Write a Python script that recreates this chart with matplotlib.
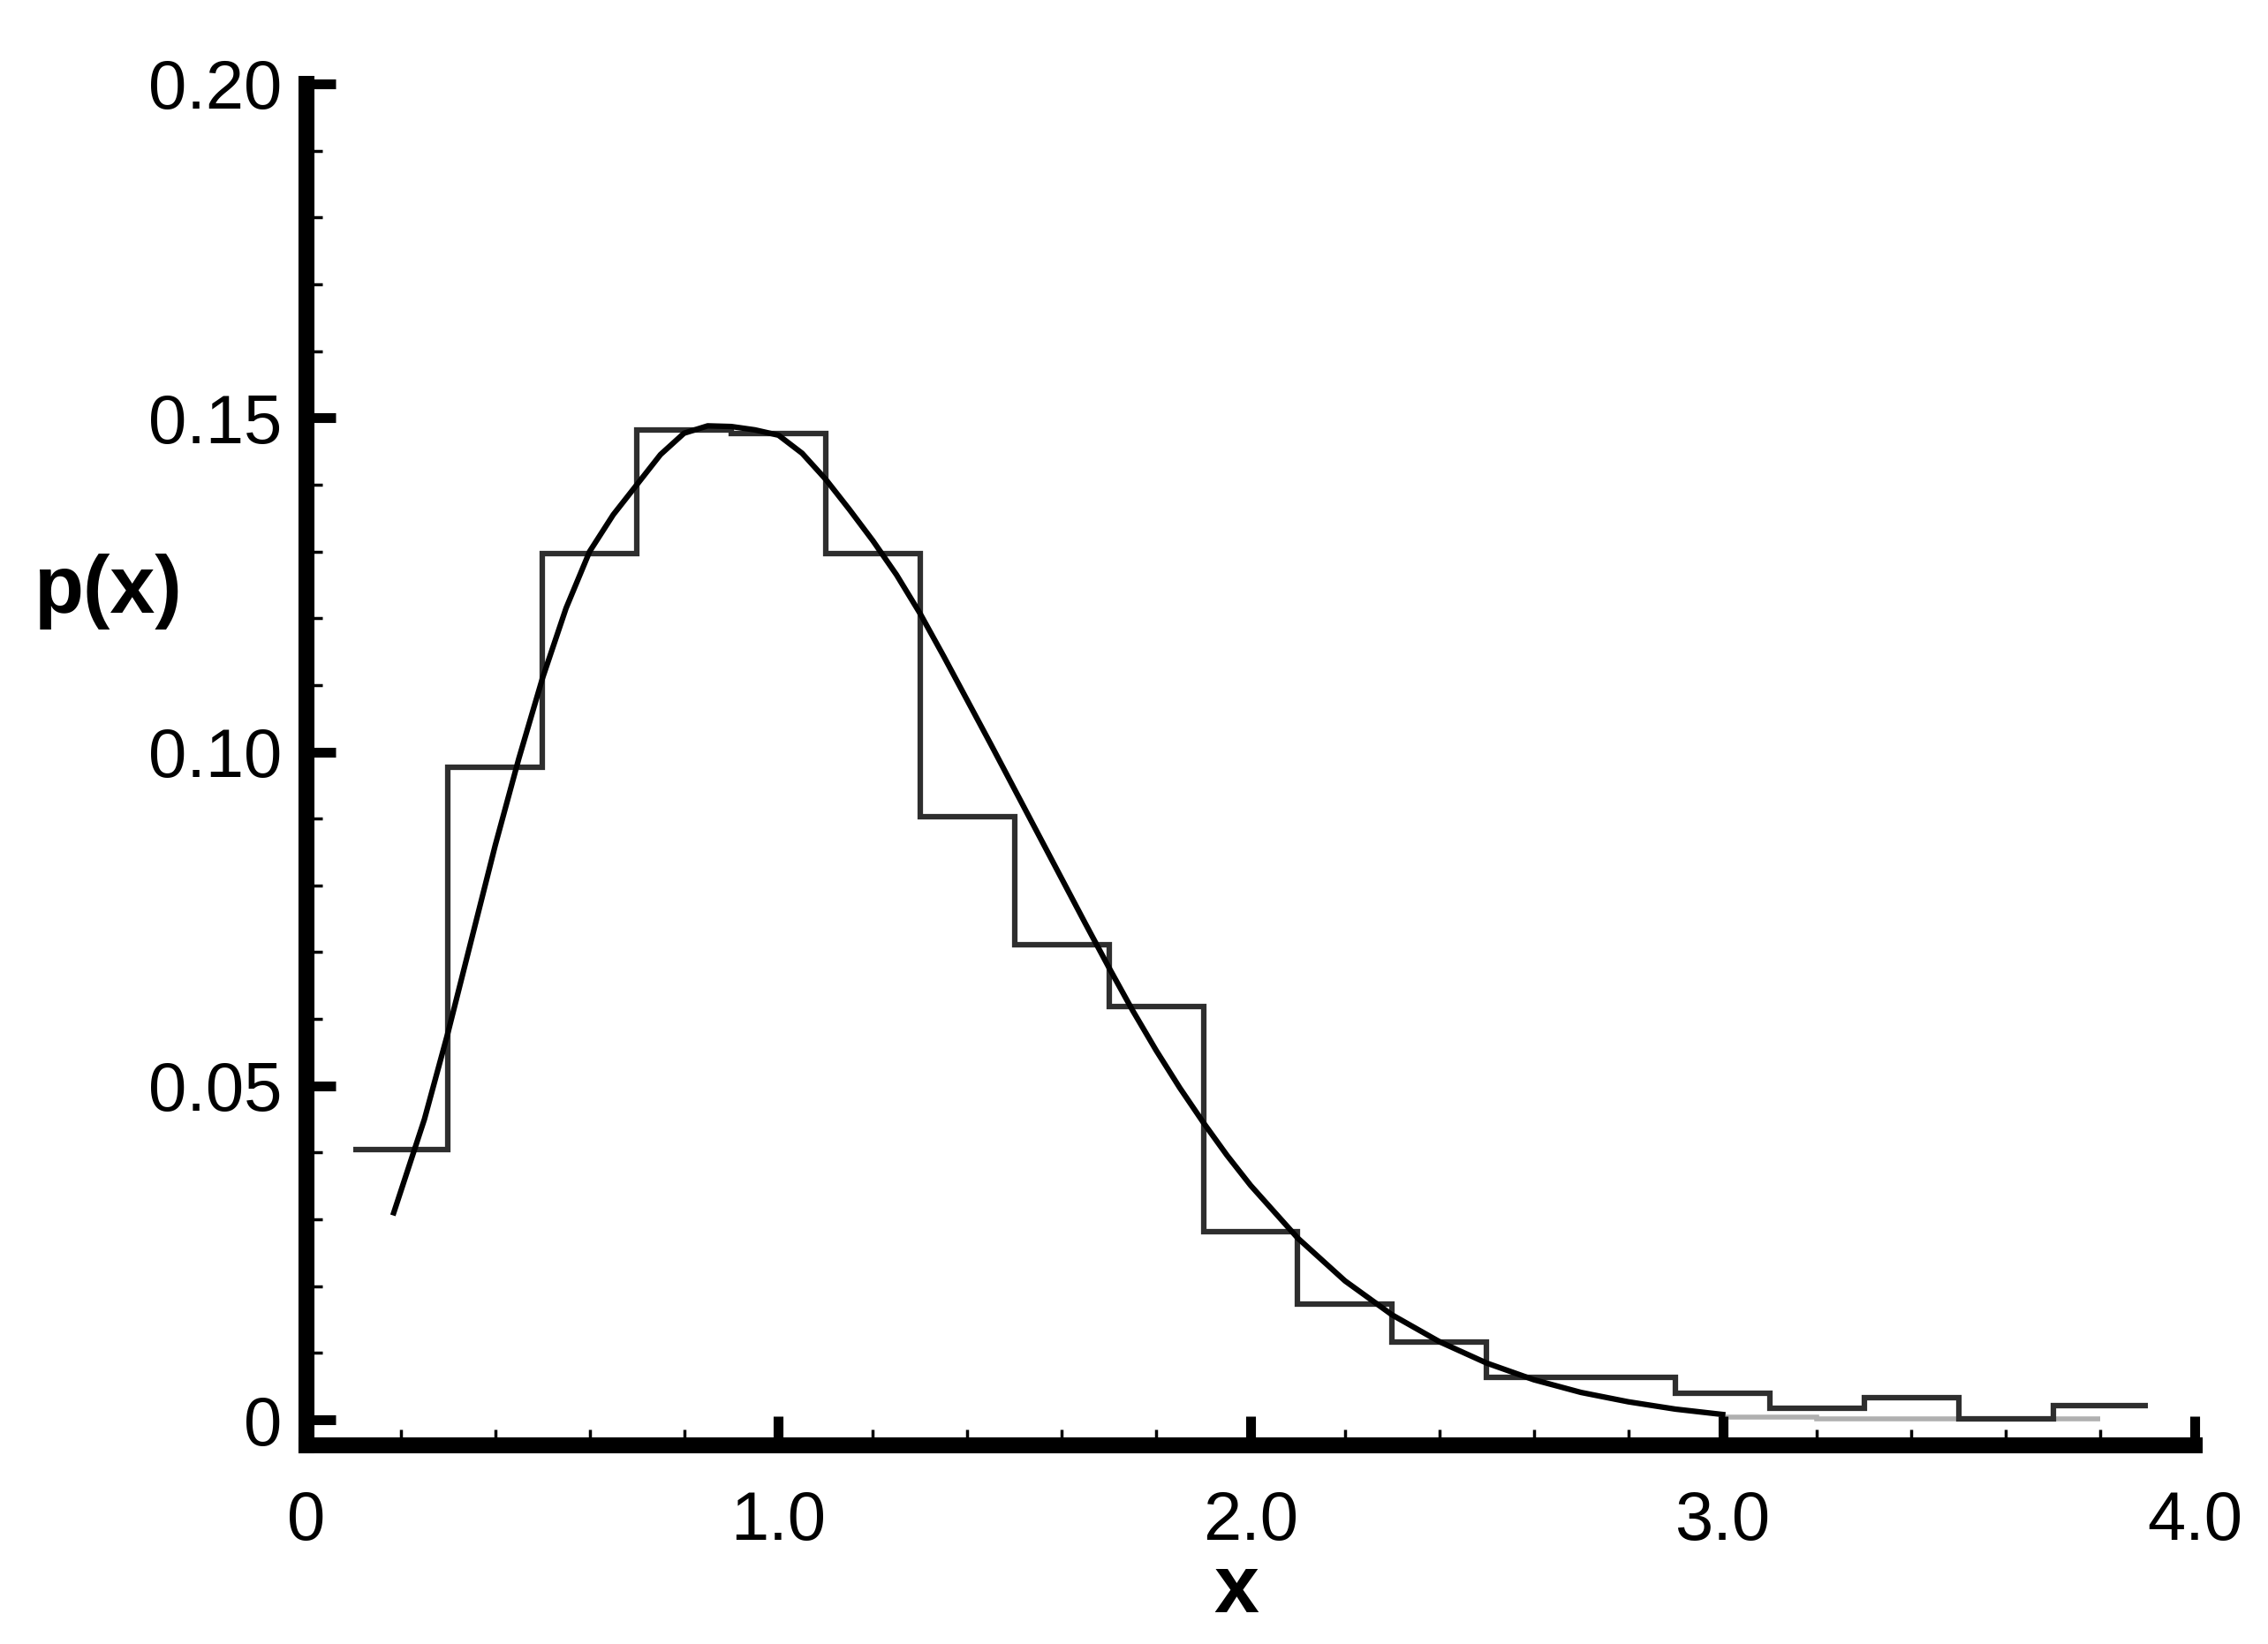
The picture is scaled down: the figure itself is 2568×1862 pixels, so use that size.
import matplotlib
matplotlib.use("Agg")
import matplotlib.pyplot as plt
from matplotlib.ticker import MultipleLocator, FixedLocator, FixedFormatter

# ---- data ----
bin_edges = [0.1, 0.3, 0.5, 0.7, 0.9, 1.1, 1.3, 1.5, 1.7, 1.9, 2.1,
             2.3, 2.5, 2.7, 2.9, 3.1, 3.3, 3.5, 3.7, 3.9]
hist_values = [0.0405, 0.0977, 0.1297, 0.1482, 0.1477, 0.1297, 0.0903,
               0.0711, 0.0619, 0.0282, 0.0173, 0.0116, 0.0064, 0.0063,
               0.0040, 0.0017, 0.0033, 0.0002, 0.0021]

ghost_edges = [3.0, 3.2, 3.4, 3.6, 3.8]
ghost_values = [0.0004, 0.0002, 0.0002, 0.0002]

curve_x = [0.185, 0.25, 0.30, 0.35, 0.40, 0.45, 0.50, 0.55, 0.60, 0.65,
           0.70, 0.75, 0.80, 0.85, 0.90, 0.95, 1.00, 1.05, 1.10, 1.15,
           1.20, 1.25, 1.30, 1.35, 1.40, 1.45, 1.50, 1.55, 1.60, 1.65,
           1.70, 1.75, 1.80, 1.85, 1.90, 1.95, 2.00, 2.10, 2.20, 2.30,
           2.40, 2.50, 2.60, 2.70, 2.80, 2.90, 3.00]
curve_y = [0.031, 0.045, 0.058, 0.072, 0.086, 0.099, 0.111, 0.1215, 0.130,
           0.1355, 0.140, 0.1445, 0.1477, 0.1488, 0.1487, 0.1482, 0.1474,
           0.1447, 0.1408, 0.1363, 0.1316, 0.1265, 0.1207, 0.1143, 0.1077,
           0.1011, 0.0944, 0.0877, 0.0810, 0.0743, 0.0677, 0.0613, 0.0553,
           0.0497, 0.0445, 0.0396, 0.0351, 0.0272, 0.0208, 0.0157, 0.0117,
           0.0085, 0.0060, 0.0041, 0.0027, 0.0016, 0.0008]

x_ticks = [0, 1.0, 2.0, 3.0, 4.0]
x_tick_labels = ["0", "1.0", "2.0", "3.0", "4.0"]
y_ticks = [0, 0.05, 0.10, 0.15, 0.20]
y_tick_labels = ["0", "0.05", "0.10", "0.15", "0.20"]

# ---- figure ----
plt.rcParams['font.family'] = ['Liberation Sans', 'DejaVu Sans']
fig = plt.figure(figsize=(25.68, 18.62), dpi=100)
ax = fig.add_axes([0.1351, 0.1208, 0.8326, 0.8282])

ax.stairs(ghost_values, ghost_edges, baseline=None, color='#b0b0b0', linewidth=4)
ax.stairs(hist_values, bin_edges, baseline=None, color='#2e2e2e', linewidth=4.5)
ax.plot(curve_x, curve_y, color='black', linewidth=4.5, solid_joinstyle='round')

ax.set_xlim(0, 4.0)
ax.set_ylim(-0.00383, 0.20)

for s in ['top', 'right']:
    ax.spines[s].set_visible(False)
for s in ['left', 'bottom']:
    ax.spines[s].set_linewidth(13)
    ax.spines[s].set_color('black')
ax.spines['left'].set_bounds(-0.00383, 0.20)

ax.xaxis.set_major_locator(FixedLocator(x_ticks))
ax.xaxis.set_major_formatter(FixedFormatter(x_tick_labels))
ax.yaxis.set_major_locator(FixedLocator(y_ticks))
ax.yaxis.set_major_formatter(FixedFormatter(y_tick_labels))
ax.xaxis.set_minor_locator(MultipleLocator(0.2))
ax.yaxis.set_minor_locator(FixedLocator([i * 0.01 for i in range(21)]))

ax.tick_params(which='major', direction='in', length=24, width=8,
               labelsize=56, color='black')
ax.tick_params(which='minor', direction='in', length=13, width=2.5,
               color='black')
ax.tick_params(axis='y', which='major', pad=20)
ax.tick_params(axis='x', which='major', pad=36)

ax.set_xlabel('x', fontsize=66, fontweight='bold', va='center')
ax.xaxis.set_label_coords(0.4925, -0.107)
ax.set_ylabel('p(x)', fontsize=66, fontweight='bold', rotation=0,
              ha='center', va='center')
ax.yaxis.set_label_coords(-0.105, 0.627)

fig.savefig('out.png', dpi=100, facecolor='white')
